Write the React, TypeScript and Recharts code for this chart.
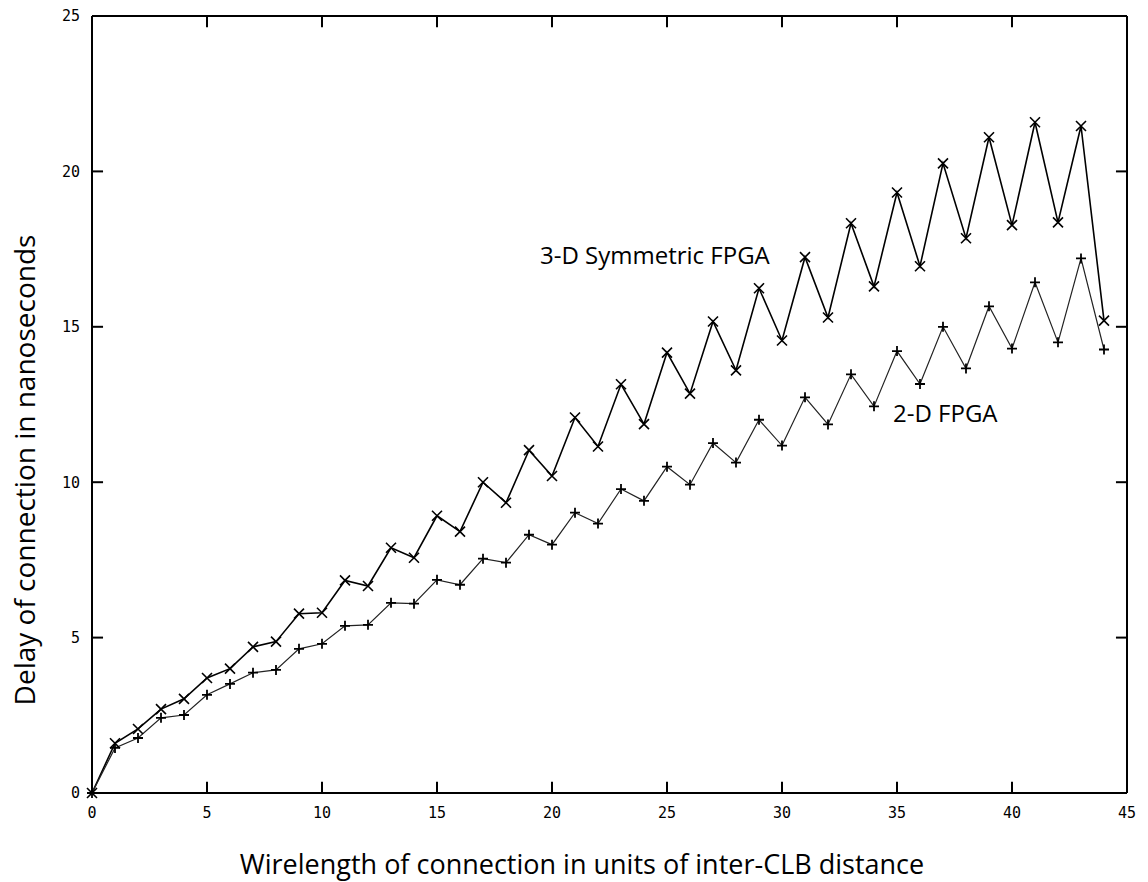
import { Line, LineChart, ReferenceLine, XAxis, YAxis } from "recharts";

// wirelength (in inter-CLB units) vs connection delay (ns)
const WIRELENGTH = [
  0, 1, 2, 3, 4, 5, 6, 7, 8, 9, 10, 11, 12, 13, 14, 15, 16, 17, 18, 19, 20, 21,
  22, 23, 24, 25, 26, 27, 28, 29, 30, 31, 32, 33, 34, 35, 36, 37, 38, 39, 40, 41,
  42, 43, 44,
];

const DELAY_3D = [
  0, 1.6, 2.06, 2.7, 3.03, 3.7, 4.0, 4.7, 4.87, 5.77, 5.8, 6.84, 6.66, 7.89,
  7.57, 8.92, 8.41, 10.0, 9.34, 11.03, 10.2, 12.08, 11.15, 13.15, 11.87, 14.17,
  12.85, 15.17, 13.6, 16.24, 14.56, 17.24, 15.3, 18.33, 16.3, 19.32, 16.95,
  20.26, 17.85, 21.1, 18.27, 21.58, 18.36, 21.46, 15.2,
];

const DELAY_2D = [
  0, 1.45, 1.77, 2.42, 2.51, 3.16, 3.51, 3.87, 3.96, 4.64, 4.8, 5.38, 5.41,
  6.12, 6.09, 6.86, 6.7, 7.54, 7.41, 8.31, 7.99, 9.02, 8.67, 9.78, 9.4, 10.5,
  9.92, 11.26, 10.63, 12.01, 11.18, 12.73, 11.86, 13.47, 12.44, 14.22, 13.16,
  15.0, 13.66, 15.66, 14.3, 16.43, 14.5, 17.2, 14.27,
];

const X_TICKS = [0, 5, 10, 15, 20, 25, 30, 35, 40, 45];
const Y_TICKS = [0, 5, 10, 15, 20, 25];

const X_MAX = 45;
const Y_MAX = 25;
// inward tick length, in data units (~11px each way)
const TICK_DY = 0.36;
const TICK_DX = 0.48;

const rows = WIRELENGTH.map((w, i) => ({
  w,
  d3: DELAY_3D[i],
  d2: DELAY_2D[i],
}));

const TICK_FONT = {
  fontFamily: "'DejaVu Sans Mono', 'Liberation Mono', monospace",
  fontSize: 15,
  fill: "#000",
};
const TEXT_FONT = "'Open Sans', 'DejaVu Sans', sans-serif";
const FRAME = { stroke: "#000", strokeWidth: 2 };

const NoLabel = () => <g />;

// "x" marker for the 3-D series
function CrossDot(props: any) {
  const { cx, cy, index } = props;
  if (cx == null || cy == null) return null;
  const r = 5;
  return (
    <path
      key={`x${index}`}
      d={`M${cx - r},${cy - r}L${cx + r},${cy + r}M${cx - r},${cy + r}L${cx + r},${cy - r}`}
      stroke="#000"
      strokeWidth={1.6}
      fill="none"
    />
  );
}

// "+" marker for the 2-D series
function PlusDot(props: any) {
  const { cx, cy, index } = props;
  if (cx == null || cy == null) return null;
  const r = 5;
  return (
    <path
      key={`p${index}`}
      d={`M${cx - r},${cy}L${cx + r},${cy}M${cx},${cy - r}L${cx},${cy + r}`}
      stroke="#000"
      strokeWidth={1.8}
      fill="none"
    />
  );
}

export default function App() {
  const innerX = X_TICKS.filter((t) => t > 0 && t < X_MAX);
  const innerY = Y_TICKS.filter((t) => t > 0 && t < Y_MAX);
  const mark = { stroke: "#000", strokeWidth: 2, ifOverflow: "visible" as const };
  return (
    <div
      style={{
        position: "absolute",
        left: 0,
        top: 0,
        width: 1148,
        height: 882,
        background: "#fff",
      }}
    >
      <LineChart
        width={1148}
        height={882}
        data={rows}
        margin={{ top: 16, right: 21, bottom: 49, left: 52 }}
      >
        <XAxis
          xAxisId="b"
          dataKey="w"
          type="number"
          domain={[0, X_MAX]}
          ticks={X_TICKS}
          height={40}
          tickLine={false}
          tickSize={0}
          tickMargin={14}
          axisLine={FRAME}
          tick={TICK_FONT}
          interval={0}
        />
        <XAxis
          xAxisId="t"
          dataKey="w"
          orientation="top"
          type="number"
          domain={[0, X_MAX]}
          ticks={X_TICKS}
          mirror
          height={1}
          tickLine={false}
          tick={NoLabel}
          axisLine={FRAME}
          interval={0}
        />
        <YAxis
          yAxisId="l"
          type="number"
          domain={[0, Y_MAX]}
          ticks={Y_TICKS}
          width={40}
          tickLine={false}
          tickSize={0}
          tickMargin={12}
          axisLine={FRAME}
          tick={TICK_FONT}
          interval={0}
        />
        <YAxis
          yAxisId="r"
          orientation="right"
          type="number"
          domain={[0, Y_MAX]}
          ticks={Y_TICKS}
          mirror
          width={1}
          tick={NoLabel}
          tickLine={false}
          axisLine={FRAME}
          interval={0}
        />

        {/* inward tick marks on all four sides of the frame */}
        {innerX.map((t) => (
          <ReferenceLine
            key={`bx${t}`}
            xAxisId="b"
            yAxisId="l"
            segment={[
              { x: t, y: 0 },
              { x: t, y: TICK_DY },
            ]}
            {...mark}
          />
        ))}
        {innerX.map((t) => (
          <ReferenceLine
            key={`tx${t}`}
            xAxisId="b"
            yAxisId="l"
            segment={[
              { x: t, y: Y_MAX },
              { x: t, y: Y_MAX - TICK_DY },
            ]}
            {...mark}
          />
        ))}
        {innerY.map((t) => (
          <ReferenceLine
            key={`ly${t}`}
            xAxisId="b"
            yAxisId="l"
            segment={[
              { x: 0, y: t },
              { x: TICK_DX, y: t },
            ]}
            {...mark}
          />
        ))}
        {innerY.map((t) => (
          <ReferenceLine
            key={`ry${t}`}
            xAxisId="b"
            yAxisId="l"
            segment={[
              { x: X_MAX, y: t },
              { x: X_MAX - TICK_DX, y: t },
            ]}
            {...mark}
          />
        ))}

        {/* invisible series so the frame axes get a scale */}
        <Line
          xAxisId="t"
          yAxisId="r"
          dataKey="d3"
          stroke="none"
          dot={false}
          activeDot={false}
          legendType="none"
          isAnimationActive={false}
        />
        <Line
          xAxisId="b"
          yAxisId="l"
          dataKey="d3"
          type="linear"
          stroke="#000"
          strokeWidth={1.6}
          dot={CrossDot}
          activeDot={false}
          isAnimationActive={false}
        />
        <Line
          xAxisId="b"
          yAxisId="l"
          dataKey="d2"
          type="linear"
          stroke="#222"
          strokeWidth={1.2}
          dot={PlusDot}
          activeDot={false}
          isAnimationActive={false}
        />
      </LineChart>

      <div
        style={{
          position: "absolute",
          left: 540,
          top: 238,
          fontFamily: TEXT_FONT,
          fontSize: 24,
          whiteSpace: "nowrap",
        }}
      >
        3-D Symmetric FPGA
      </div>
      <div
        style={{
          position: "absolute",
          left: 893,
          top: 396,
          fontFamily: TEXT_FONT,
          fontSize: 24,
          whiteSpace: "nowrap",
        }}
      >
        2-D FPGA
      </div>
      <div
        style={{
          position: "absolute",
          left: 0,
          width: 1164,
          top: 845,
          textAlign: "center",
          fontFamily: TEXT_FONT,
          fontSize: 27,
          whiteSpace: "nowrap",
        }}
      >
        Wirelength of connection in units of inter-CLB distance
      </div>
      <div
        style={{
          position: "absolute",
          left: 24,
          top: 470,
          transform: "translate(-50%, -50%) rotate(-90deg)",
          fontFamily: TEXT_FONT,
          fontSize: 28,
          whiteSpace: "nowrap",
        }}
      >
        Delay of connection in nanoseconds
      </div>
    </div>
  );
}
